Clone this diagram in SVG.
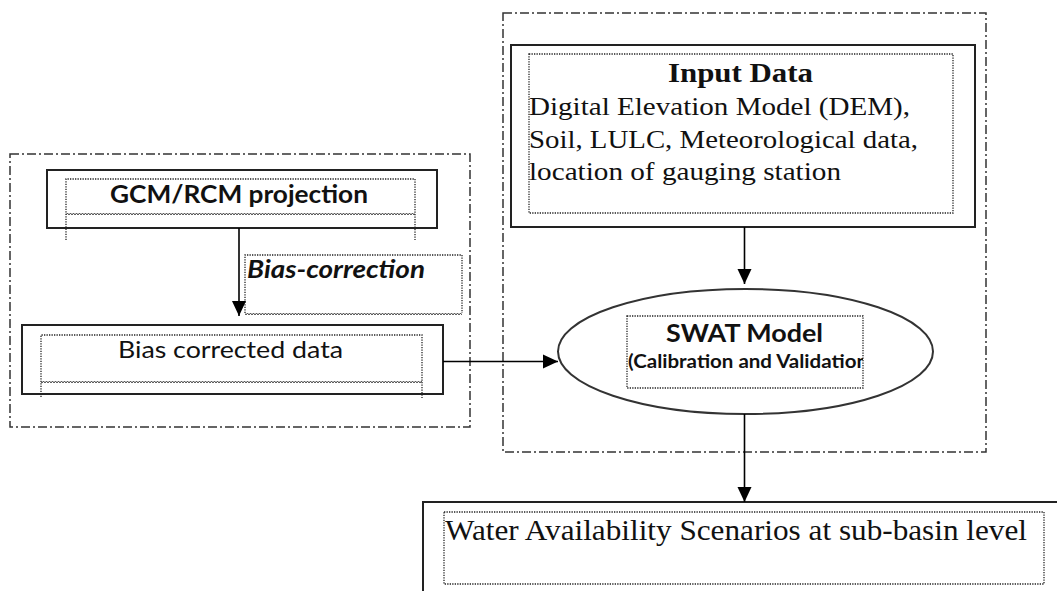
<svg xmlns="http://www.w3.org/2000/svg" width="1057" height="591" viewBox="0 0 1057 591">
<style>
.bg{fill:#fff}
.group{fill:none;stroke:#333;stroke-width:1.5;stroke-dasharray:9 3 2 3}
.box{fill:#fff;stroke:#222;stroke-width:2}
.tb{fill:none;stroke:#222;stroke-width:1.3;stroke-dasharray:1.3 1.2}
.conn{fill:none;stroke:#000;stroke-width:1.6}
.cal{font-family:Lato,"Open Sans","Liberation Sans",sans-serif;fill:#111}
.tnr{font-family:"Liberation Serif","Times New Roman",serif;fill:#111}
</style>
<defs>
<marker id="ah" markerUnits="userSpaceOnUse" markerWidth="16" markerHeight="16" viewBox="0 0 16 16" refX="15" refY="8" orient="auto">
<path d="M0,1 L15,8 L0,15 Z" fill="#000"/>
</marker>
<pattern id="zz" patternUnits="userSpaceOnUse" width="3" height="4">
<path d="M0,3 L1.5,1 L3,3" fill="none" stroke="#333" stroke-width="0.9"/>
</pattern>
<clipPath id="swclip"><rect x="620" y="316" width="243" height="72"/></clipPath>
</defs>
<rect class="bg" x="0" y="0" width="1057" height="591"/>

<g id="group-left">
<rect class="group" x="10" y="154" width="460" height="273"/>
</g>
<g id="group-right">
<rect class="group" x="503" y="13" width="483" height="439"/>
</g>

<g id="gcm">
<rect class="box" x="47" y="170" width="390" height="58"/>
<path class="tb" d="M66,240 V179 H415 V240"/>
<rect x="66" y="212" width="349" height="4" fill="url(#zz)"/>
<text class="cal" x="239" y="203" font-size="24" font-weight="bold" text-anchor="middle" textLength="258" lengthAdjust="spacingAndGlyphs">GCM/RCM projection</text>
</g>

<g id="bias-correction">
<path class="tb" d="M245,313 V255 H462 V313"/>
<rect x="245" y="312" width="217" height="4" fill="url(#zz)"/>
<text class="cal" x="247" y="278" font-size="24" font-weight="bold" font-style="italic" textLength="178" lengthAdjust="spacingAndGlyphs">Bias-correction</text>
</g>

<g id="bias-corrected">
<rect class="box" x="22" y="325" width="421" height="69"/>
<path class="tb" d="M41,397 V335 H422 V398"/>
<rect x="41" y="380" width="381" height="4" fill="url(#zz)"/>
<text class="cal" x="118" y="358" font-size="24" textLength="225" lengthAdjust="spacingAndGlyphs">Bias corrected data</text>
</g>

<g id="input-data">
<rect class="box" x="511" y="45" width="464" height="182" stroke-width="2.4"/>
<rect class="tb" x="529" y="54" width="424" height="159"/>
<text class="tnr" x="668" y="82" font-size="28" font-weight="bold" textLength="145" lengthAdjust="spacingAndGlyphs">Input Data</text>
<text class="tnr" x="529" y="115" font-size="26" textLength="381" lengthAdjust="spacingAndGlyphs">Digital Elevation Model (DEM),</text>
<text class="tnr" x="529" y="148" font-size="26" textLength="389" lengthAdjust="spacingAndGlyphs">Soil, LULC, Meteorological data,</text>
<text class="tnr" x="529" y="180" font-size="26" textLength="312" lengthAdjust="spacingAndGlyphs">location of gauging station</text>
</g>

<g id="swat">
<ellipse cx="745.5" cy="351.5" rx="187.5" ry="62.5" fill="#fff" stroke="#333" stroke-width="2"/>
<rect class="tb" x="627" y="316" width="236" height="72"/>
<text class="cal" x="666" y="342" font-size="24" font-weight="bold" textLength="157" lengthAdjust="spacingAndGlyphs">SWAT Model</text>
<g clip-path="url(#swclip)">
<text class="cal" x="628" y="368" font-size="19" font-weight="bold" textLength="240" lengthAdjust="spacingAndGlyphs">(Calibration and Validation</text>
</g>
</g>

<g id="water">
<rect class="box" x="423" y="502" width="660" height="110"/>
<rect class="tb" x="444" y="512" width="600" height="72"/>
<text class="tnr" x="445" y="540" font-size="30" textLength="582" lengthAdjust="spacingAndGlyphs">Water Availability Scenarios at sub-basin level</text>
</g>

<g id="connectors">
<line class="conn" x1="239" y1="228" x2="239" y2="316" marker-end="url(#ah)"/>
<line class="conn" x1="443" y1="361.5" x2="558" y2="361.5" marker-end="url(#ah)"/>
<line class="conn" x1="744.5" y1="227" x2="744.5" y2="284" marker-end="url(#ah)"/>
<line class="conn" x1="744.5" y1="414" x2="744.5" y2="502" marker-end="url(#ah)"/>
</g>
</svg>
